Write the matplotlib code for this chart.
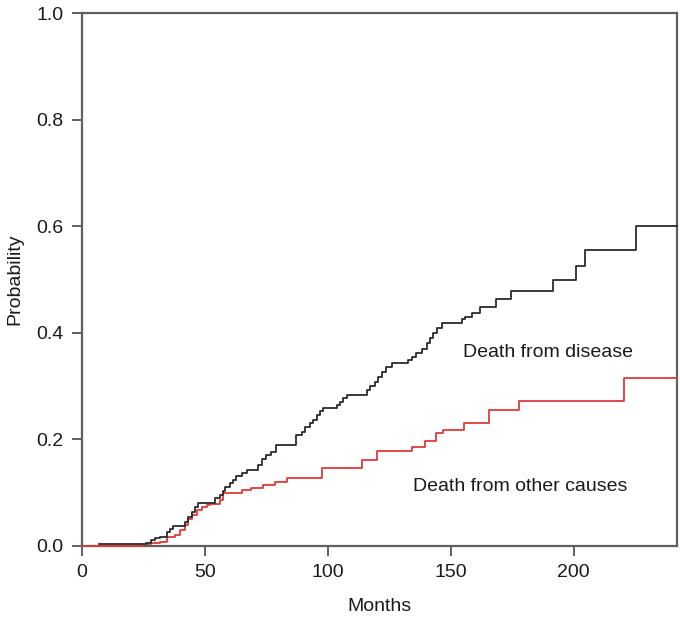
import matplotlib
matplotlib.use("Agg")
import matplotlib.pyplot as plt

plt.rcParams['font.family'] = ['Liberation Sans', 'DejaVu Sans']

# Cumulative incidence: death from disease (black)
disease_t = [7, 26, 28, 30, 31.8, 34.5, 35.9, 37.2, 42, 43.4, 44.7, 46.1, 47.4,
             54.2, 56.2, 57.5, 58.2, 60.2, 61.6, 62.9, 65, 67, 71.7, 73.1, 75.1, 77.1, 79.1,
             87.1, 89.4, 90.7, 92.8, 94.1, 95.5, 96.8, 98.2,
             103.6, 105, 106.3, 107.7,
             115.8, 117.1, 119.2, 120.5, 121.9, 123.9, 126,
             132.7, 134.1, 136.1, 138.2, 140.2, 141.5, 142.9, 144.3, 146.3,
             154.4, 156, 158.5, 161.8, 168.3, 174.7, 191.4, 200.9, 204.5, 225.2, 242]
disease_p = [0.004, 0.006, 0.010, 0.014, 0.017, 0.026, 0.032, 0.037, 0.045, 0.054, 0.064, 0.073, 0.080,
             0.089, 0.095, 0.103, 0.111, 0.117, 0.124, 0.131, 0.137, 0.142, 0.151, 0.162, 0.170, 0.176, 0.189,
             0.208, 0.214, 0.223, 0.230, 0.236, 0.245, 0.252, 0.258,
             0.264, 0.270, 0.277, 0.283,
             0.292, 0.300, 0.308, 0.317, 0.327, 0.335, 0.3436,
             0.349, 0.355, 0.362, 0.370, 0.380, 0.389, 0.399, 0.408, 0.4175,
             0.425, 0.429, 0.437, 0.449, 0.4625, 0.479, 0.498, 0.525, 0.555, 0.600, 0.600]

# Cumulative incidence: death from other causes (red)
other_t = [0, 25, 28, 31.8, 34.5, 37.9, 39.9, 42, 43.4, 44.7, 46.8, 48.8, 50.8, 52.2, 56.2,
           57.5, 65, 69, 73.8, 78.5, 83.3, 97.5, 113.8, 119.9, 134.1, 139.5, 144.2, 146.9,
           155.4, 165.6, 177.8, 220.4, 242]
other_p = [0, 0.003, 0.005, 0.0075, 0.017, 0.020, 0.029, 0.039, 0.051, 0.057, 0.067, 0.073, 0.076, 0.079, 0.085,
           0.099, 0.104, 0.109, 0.114, 0.120, 0.1265, 0.145, 0.160, 0.178, 0.186, 0.196, 0.211, 0.218,
           0.231, 0.255, 0.272, 0.315, 0.315]

x_ticks = [0, 50, 100, 150, 200]
y_ticks = [0.0, 0.2, 0.4, 0.6, 0.8, 1.0]
y_ticklabels = ["0.0", "0.2", "0.4", "0.6", "0.8", "1.0"]

fig = plt.figure(figsize=(6.8, 6.21), dpi=100)
ax = fig.add_axes([81.7 / 680, 1 - 545.7 / 621, (677 - 81.7) / 680, (545.7 - 13) / 621])

ax.step(other_t, other_p, where='post', color='#e0393a', lw=1.3, zorder=3, clip_on=False)
ax.step(disease_t, disease_p, where='post', color='#2b2b2b', lw=1.3, zorder=4, clip_on=False)

ax.set_xlim(0, 242)
ax.set_ylim(0, 1.0)
ax.set_xticks(x_ticks)
ax.set_yticks(y_ticks)
ax.set_yticklabels(y_ticklabels)

for s in ax.spines.values():
    s.set_color('#606060')
    s.set_linewidth(1.6)
ax.tick_params(direction='out', length=7.2, width=1.4, color='#606060',
               labelsize=14, labelcolor='#1a1a1a', pad=6)

ax.set_xlabel('Months', fontsize=14, color='#1a1a1a', labelpad=12)
ax.set_ylabel('Probability', fontsize=14, color='#1a1a1a', labelpad=9)

ax.text(155, 0.362, 'Death from disease', fontsize=14, color='#1a1a1a',
        ha='left', va='center')
ax.text(134.5, 0.112, 'Death from other causes', fontsize=14, color='#1a1a1a',
        ha='left', va='center')

fig.savefig('out.png', dpi=100)
